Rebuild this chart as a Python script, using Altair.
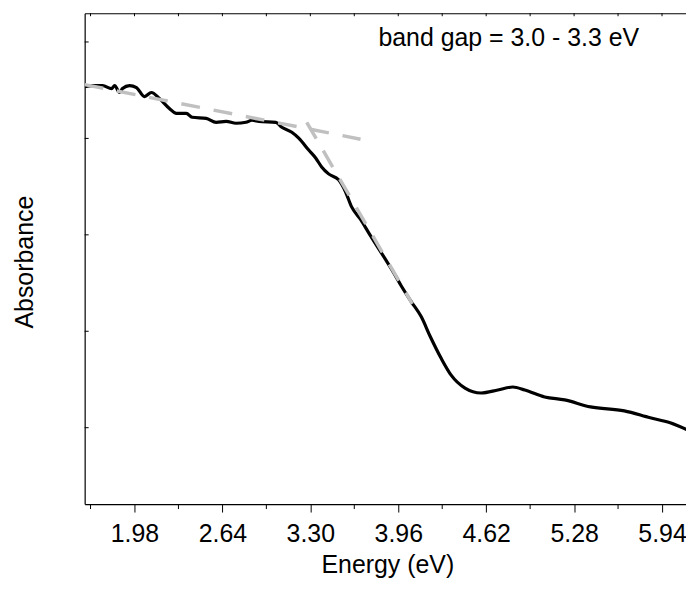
import altair as alt
import pandas as pd

# ---- data ----
energy = [1.606, 1.666, 1.741, 1.808, 1.831, 1.868, 1.890, 1.943, 1.995, 2.055,
          2.107, 2.167, 2.242, 2.294, 2.369, 2.413, 2.518, 2.593, 2.668, 2.742,
          2.817, 2.862, 2.914, 3.041, 3.086, 3.161, 3.213, 3.288, 3.340, 3.385,
          3.437, 3.512, 3.564, 3.609, 3.677, 3.736, 3.796, 3.863, 3.923, 3.983,
          4.058, 4.132, 4.200, 4.282, 4.357, 4.461, 4.581, 4.708, 4.820, 4.910,
          5.059, 5.209, 5.403, 5.657, 5.851, 6.001, 6.158]
absorbance = [4.537, 4.548, 4.548, 4.517, 4.548, 4.476, 4.517, 4.548, 4.527, 4.434,
              4.476, 4.414, 4.311, 4.260, 4.260, 4.219, 4.208, 4.167, 4.177, 4.157,
              4.167, 4.188, 4.177, 4.167, 4.116, 4.064, 4.003, 3.879, 3.797, 3.704,
              3.632, 3.571, 3.447, 3.293, 3.159, 3.026, 2.892, 2.748, 2.614, 2.470,
              2.306, 2.152, 1.946, 1.720, 1.545, 1.411, 1.360, 1.391, 1.422, 1.391,
              1.319, 1.288, 1.216, 1.175, 1.103, 1.051, 0.959]

baseline_energy = [1.606, 3.677]
baseline_abs = [4.558, 3.992]
edge_energy = [3.273, 4.065]
edge_abs = [4.167, 2.285]

major_ticks = [1.98, 2.64, 3.30, 3.96, 4.62, 5.28, 5.94]
minor_ticks = [1.65, 2.31, 2.97, 3.63, 4.29, 4.95, 5.61]
y_ticks = [1, 2, 3, 4, 5]

x_domain = [1.606, 6.120]
y_domain = [0.208, 5.298]

note_text = "band gap = 3.0 - 3.3 eV"
note_energy = [3.811]
note_abs = [4.959]

# ---- tables ----
curve_df = pd.DataFrame({"E": energy, "A": absorbance})
fit_df = pd.DataFrame({
    "E": baseline_energy + edge_energy,
    "A": baseline_abs + edge_abs,
    "seg": ["baseline"] * len(baseline_energy) + ["edge"] * len(edge_energy),
})
note_df = pd.DataFrame({"E": note_energy, "A": note_abs, "t": [note_text]})
minor_df = pd.DataFrame({"v": minor_ticks})
top_df = pd.DataFrame({"v": sorted(major_ticks + minor_ticks)})
ytick_df = pd.DataFrame({"v": y_ticks})

FONT = "Liberation Sans"
W, H = 604, 493
xs = alt.Scale(domain=x_domain, nice=False, zero=False)
ys = alt.Scale(domain=y_domain, nice=False, zero=False)

curve = alt.Chart(curve_df).mark_line(color="black", strokeWidth=3.2, clip=True,
                                      interpolate="monotone").encode(
    x=alt.X("E:Q", scale=xs, axis=alt.Axis(
        values=major_ticks, format=".2f", tickSize=8, labelPadding=30,
        labelBaseline="alphabetic", title="Energy (eV)",
        titleX=304, titleY=69, titleBaseline="alphabetic", titleAlign="center",
        orient="bottom")),
    y=alt.Y("A:Q", scale=ys, axis=alt.Axis(
        orient="left", ticks=False, labels=False, title="Absorbance", titleAngle=270,
        titleX=-52, titleY=249.5, titleBaseline="alphabetic", titleAlign="center")),
)

fits = alt.Chart(fit_df).mark_line(color="#c0c0c0", strokeWidth=3.5, strokeDash=[19, 14]).encode(
    x=alt.X("E:Q", scale=xs, axis=None),
    y=alt.Y("A:Q", scale=ys, axis=None),
    detail="seg:N",
)

note = alt.Chart(note_df).mark_text(align="left", baseline="alphabetic", fontSize=25,
                                    font=FONT, color="black").encode(
    x=alt.X("E:Q", scale=xs, axis=None),
    y=alt.Y("A:Q", scale=ys, axis=None),
    text="t:N",
)

minor = alt.Chart(minor_df).mark_rule(color="black", strokeWidth=1).encode(
    x=alt.X("v:Q", scale=xs, axis=None),
    y=alt.value(H), y2=alt.value(H + 5),
)

top = alt.Chart(top_df).mark_rule(color="black", strokeWidth=1).encode(
    x=alt.X("v:Q", scale=xs, axis=alt.Axis(orient="top", labels=False, ticks=False,
                                           domain=True, title=None)),
    y=alt.value(0), y2=alt.value(3),
)

yt = alt.Chart(ytick_df).mark_rule(color="black", strokeWidth=1).encode(
    y=alt.Y("v:Q", scale=ys, axis=None),
    x=alt.value(0), x2=alt.value(4),
)

chart = alt.layer(curve, fits, note, minor, top, yt).resolve_axis(
    x="independent", y="independent"
).properties(
    width=W, height=H,
    autosize=alt.AutoSizeParams(type="none"),
    padding={"left": 77, "top": 4, "right": 0, "bottom": 75},
).configure_view(strokeWidth=0).configure_axis(
    grid=False, domainColor="black", domainWidth=1.2, tickColor="black", tickWidth=1,
    labelColor="black", titleColor="black", labelFont=FONT, titleFont=FONT,
    labelFontSize=25, titleFontSize=25, titleFontWeight="normal",
)

chart.save("out.html", embed_options={"renderer": "svg", "actions": False})
